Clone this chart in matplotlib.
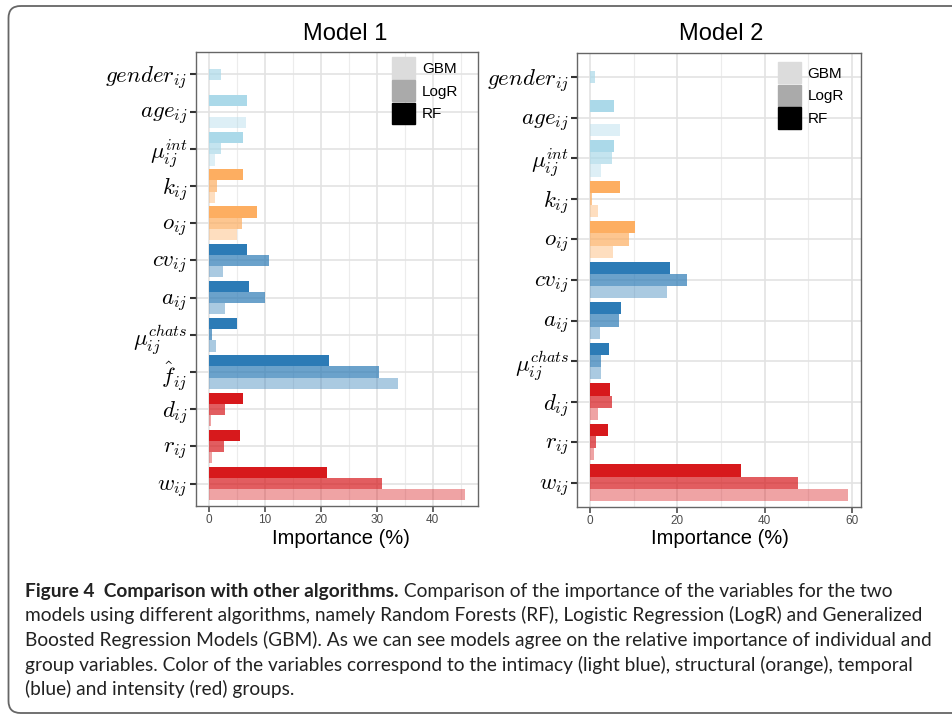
import matplotlib
matplotlib.use("Agg")
import matplotlib.pyplot as plt
from matplotlib.patches import FancyBboxPatch, Patch
import numpy as np

# variable labels (top to bottom) and group membership
labels1 = [r'$gender_{ij}$', r'$age_{ij}$', r'$\mu_{ij}^{int}$', r'$k_{ij}$', r'$o_{ij}$',
           r'$cv_{ij}$', r'$a_{ij}$', r'$\mu_{ij}^{chats}$', r'$\hat{f}_{ij}$',
           r'$d_{ij}$', r'$r_{ij}$', r'$w_{ij}$']
groups1 = ['int', 'int', 'int', 'str', 'str', 'tmp', 'tmp', 'tmp', 'tmp', 'ins', 'ins', 'ins']

labels2 = [r'$gender_{ij}$', r'$age_{ij}$', r'$\mu_{ij}^{int}$', r'$k_{ij}$', r'$o_{ij}$',
           r'$cv_{ij}$', r'$a_{ij}$', r'$\mu_{ij}^{chats}$',
           r'$d_{ij}$', r'$r_{ij}$', r'$w_{ij}$']
groups2 = ['int', 'int', 'int', 'str', 'str', 'tmp', 'tmp', 'tmp', 'ins', 'ins', 'ins']

# importance (%) per algorithm
rf1   = [0, 6.8, 6.1, 6.1, 8.6, 6.8, 7.3, 5.0, 21.5, 6.1, 5.6, 21.2]
logr1 = [2.3, 0, 2.3, 1.5, 6.0, 10.8, 10.0, 0.6, 30.4, 2.9, 2.8, 30.9]
gbm1  = [0, 6.6, 1.1, 1.1, 5.0, 2.5, 2.9, 1.3, 33.8, 0.4, 0.6, 45.8]

rf2   = [0, 5.5, 5.5, 6.85, 10.3, 18.3, 7.1, 4.3, 4.6, 4.1, 34.5]
logr2 = [1.2, 0, 5.0, 0.3, 9.0, 22.2, 6.5, 2.4, 4.9, 1.3, 47.6]
gbm2  = [0, 6.85, 2.5, 1.8, 5.25, 17.5, 2.3, 2.5, 1.8, 0.9, 59.1]

group_colors = {'int': '#abd9e9', 'str': '#fdae61', 'tmp': '#2c7bb6', 'ins': '#d7191c'}
algos = ['RF', 'LogR', 'GBM']
alphas = {'RF': 1.0, 'LogR': 0.7, 'GBM': 0.4}
offsets = {'RF': -0.3, 'LogR': 0.0, 'GBM': 0.3}

caption_bold = "Figure 4  Comparison with other algorithms."
caption_lines = [
    " Comparison of the importance of the variables for the two",
    "models using different algorithms, namely Random Forests (RF), Logistic Regression (LogR) and Generalized",
    "Boosted Regression Models (GBM). As we can see models agree on the relative importance of individual and",
    "group variables. Color of the variables correspond to the intimacy (light blue), structural (orange), temporal",
    "(blue) and intensity (red) groups.",
]

plt.rcParams['font.family'] = 'Liberation Sans'
plt.rcParams['mathtext.fontset'] = 'cm'

W, H = 953, 717
fig = plt.figure(figsize=(W / 100, H / 100), dpi=100)

# background frame + caption in pixel coordinates
bg = fig.add_axes([0, 0, 1, 1])
bg.set_xlim(0, W); bg.set_ylim(H, 0); bg.axis('off')
bg.add_patch(FancyBboxPatch((8.5, 6), 970, 707, boxstyle="round,pad=0,rounding_size=12",
                            fc='none', ec='#666666', lw=1.3))


def draw_panel(rect, labels, groups, vals, xmax, major, minor, title, title_x, xlab_x, leg_anchor):
    ax = fig.add_axes(rect)
    n = len(labels)
    y = np.arange(n)
    for algo, v in zip(algos, vals):
        cols = [group_colors[g] for g in groups]
        ax.barh(y + offsets[algo], v, height=0.3, color=cols, alpha=alphas[algo],
                linewidth=0, zorder=3)
    ax.set_xlim(-0.05 * xmax, xmax * 1.05)
    ax.set_ylim(n - 1 + 0.6, -0.6)
    ax.set_yticks(y)
    ax.set_yticklabels(labels, fontsize=16.5)
    ax.set_xticks(major)
    ax.set_xticks(minor, minor=True)
    ax.tick_params(axis='x', labelsize=8.5, colors='#4d4d4d', length=4, width=1.2, pad=2)
    ax.tick_params(axis='x', which='minor', length=0)
    ax.tick_params(axis='y', length=4, width=1.5, color='#333333', labelcolor='black', pad=2)
    ax.grid(True, which='major', color='#e3e3e3', lw=1.2, zorder=0)
    ax.grid(True, which='minor', axis='x', color='#ececec', lw=0.8, zorder=0)
    ax.set_axisbelow(True)
    for s in ax.spines.values():
        s.set_color('#666666'); s.set_linewidth(1.0)
    fig.text(title_x / W, 1 - 34 / H, title, fontsize=17, ha='center', va='center')
    fig.text(xlab_x / W, 1 - 538 / H, 'Importance (%)', fontsize=14.5, ha='center', va='center')
    handles = [Patch(color=c) for c in ['#dcdcdc', '#aaaaaa', '#000000']]
    ax.legend(handles, ['GBM', 'LogR', 'RF'], loc='upper right', frameon=False, fontsize=11,
              handlelength=1.5, handleheight=1.75, handletextpad=0.45, labelspacing=0.1,
              borderpad=0, borderaxespad=0, bbox_to_anchor=leg_anchor)
    return ax


draw_panel([195.7 / W, 1 - 506 / H, (478 - 195.7) / W, 454 / H], labels1, groups1,
           [rf1, logr1, gbm1], 45.8, [0, 10, 20, 30, 40], [5, 15, 25, 35, 45],
           'Model 1', 345, 341, (0.93, 0.988))
draw_panel([577.3 / W, 1 - 507 / H, (861 - 577.3) / W, 454 / H], labels2, groups2,
           [rf2, logr2, gbm2], 59.1, [0, 20, 40, 60], [10, 30, 50],
           'Model 2', 721, 720, (0.94, 0.98))

# caption
cap_font = dict(family='Lato', fontsize=13.8, color='#222222', va='baseline')
x0 = 25
t = bg.text(x0, 597, caption_bold, fontweight='bold', **cap_font)
fig.canvas.draw()
bb = t.get_window_extent(fig.canvas.get_renderer())
bg.text(bb.x1, 597, caption_lines[0], **cap_font)
for i, line in enumerate(caption_lines[1:]):
    bg.text(x0, 597 + 24.5 * (i + 1), line, **cap_font)

fig.savefig('out.png', dpi=100)
